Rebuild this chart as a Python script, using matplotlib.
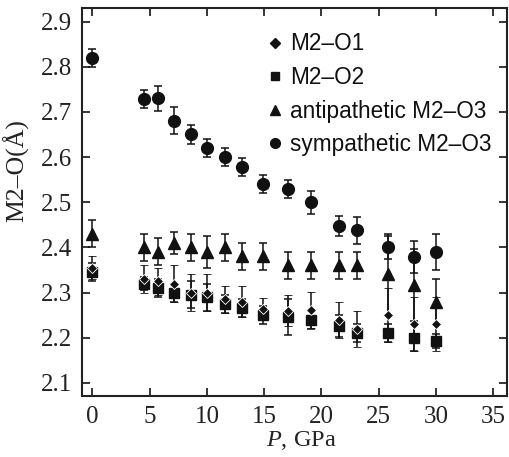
import matplotlib
matplotlib.use("Agg")
import matplotlib.pyplot as plt
from matplotlib.lines import Line2D

plt.rcParams["mathtext.fontset"] = "custom"
plt.rcParams["mathtext.it"] = "Liberation Serif:italic"
plt.rcParams["mathtext.rm"] = "Liberation Serif"

P = [0, 4.5, 5.7, 7.1, 8.6, 10.0, 11.6, 13.1, 14.9, 17.1, 19.1, 21.5, 23.1, 25.8, 28.1, 30.0]

sym = [2.82, 2.728, 2.73, 2.68, 2.65, 2.62, 2.60, 2.578, 2.54, 2.53, 2.50, 2.447, 2.438, 2.40, 2.379, 2.39]
sym_err = [0.02, 0.02, 0.028, 0.03, 0.022, 0.02, 0.02, 0.02, 0.02, 0.02, 0.025, 0.022, 0.03, 0.025, 0.035, 0.04]

anti = [2.43, 2.40, 2.39, 2.41, 2.40, 2.39, 2.40, 2.38, 2.38, 2.36, 2.36, 2.36, 2.36, 2.34, 2.317, 2.28]
anti_err = [0.03, 0.03, 0.03, 0.025, 0.03, 0.035, 0.03, 0.03, 0.03, 0.03, 0.03, 0.03, 0.03, 0.09, 0.08, 0.05]

o1 = [2.355, 2.33, 2.325, 2.32, 2.30, 2.30, 2.285, 2.28, 2.264, 2.26, 2.261, 2.24, 2.22, 2.25, 2.23, 2.23]
o1_err = [0.025, 0.03, 0.03, 0.04, 0.04, 0.04, 0.03, 0.035, 0.025, 0.035, 0.04, 0.04, 0.04, 0.06, 0.06, 0.06]

o2 = [2.345, 2.32, 2.31, 2.30, 2.295, 2.29, 2.275, 2.265, 2.25, 2.246, 2.24, 2.226, 2.21, 2.21, 2.20, 2.193]
o2_err = [0.02, 0.015, 0.02, 0.02, 0.03, 0.03, 0.02, 0.02, 0.02, 0.04, 0.02, 0.025, 0.02, 0.02, 0.03, 0.015]

labels = ["M2\u2013O1", "M2\u2013O2", "antipathetic M2\u2013O3", "sympathetic M2\u2013O3"]
xticks = [0, 5, 10, 15, 20, 25, 30, 35]
yticks = [2.1, 2.2, 2.3, 2.4, 2.5, 2.6, 2.7, 2.8, 2.9]

fig = plt.figure(figsize=(5.1, 4.57), dpi=100)
ax = fig.add_axes([82/510, 61/457, 425/510, 388/457])

ekw = dict(ecolor="#111111", elinewidth=1.1, capsize=3.0, capthick=1.1, linestyle="none", color="#111111")
ax.errorbar(P, anti, yerr=anti_err, marker="^", markersize=8, zorder=3, **ekw)
ax.errorbar(P, sym, yerr=sym_err, marker="o", markersize=8.5, zorder=3, **ekw)
ax.errorbar(P, o2, yerr=o2_err, marker="s", markersize=6.8, zorder=4, **ekw)
ax.errorbar(P, o1, yerr=o1_err, marker="D", markersize=5.5, markeredgecolor="white",
            markeredgewidth=0.6, zorder=5, **ekw)

ax.set_xlim(-0.9, 36.2)
ax.set_ylim(2.071, 2.93)
ax.set_xticks(xticks)
ax.set_yticks(yticks)
ax.set_xticklabels([str(t) for t in xticks])
ax.set_yticklabels([f"{t:.1f}" for t in yticks])
ax.tick_params(direction="in", length=6, width=1.1, top=True, right=True, labelsize=18)
ax.tick_params(axis="x", pad=7)
ax.tick_params(axis="y", pad=7)
for lab in ax.get_xticklabels() + ax.get_yticklabels():
    lab.set_fontfamily("Liberation Serif")
    lab.set_color("#222222")
for s in ax.spines.values():
    s.set_linewidth(1.5)
    s.set_color("#222222")

ax.set_xlabel("$\\mathit{P}$, GPa", fontsize=17.5, family="Liberation Serif", color="#222222")
ax.xaxis.set_label_coords(0.515, -0.085)
ax.set_ylabel("M2\u2013O(\u00c5)", fontsize=18.5, family="Liberation Serif", color="#222222")
ax.yaxis.set_label_coords(-0.125, 0.582)

handles = [
    Line2D([], [], marker="D", color="#111111", linestyle="none", markersize=5.5),
    Line2D([], [], marker="s", color="#111111", linestyle="none", markersize=6),
    Line2D([], [], marker="^", color="#111111", linestyle="none", markersize=7.5),
    Line2D([], [], marker="o", color="#111111", linestyle="none", markersize=7),
]
leg = ax.legend(handles, labels, loc="upper left", bbox_to_anchor=(0.441, 0.937),
                frameon=False, handlelength=0.5, handletextpad=0.4, labelspacing=0.47,
                borderpad=0, borderaxespad=0, prop={"family": "Liberation Sans", "size": 16.3})
for t in leg.get_texts():
    t.set_color("#111111")

fig.savefig("out.png", dpi=100)
